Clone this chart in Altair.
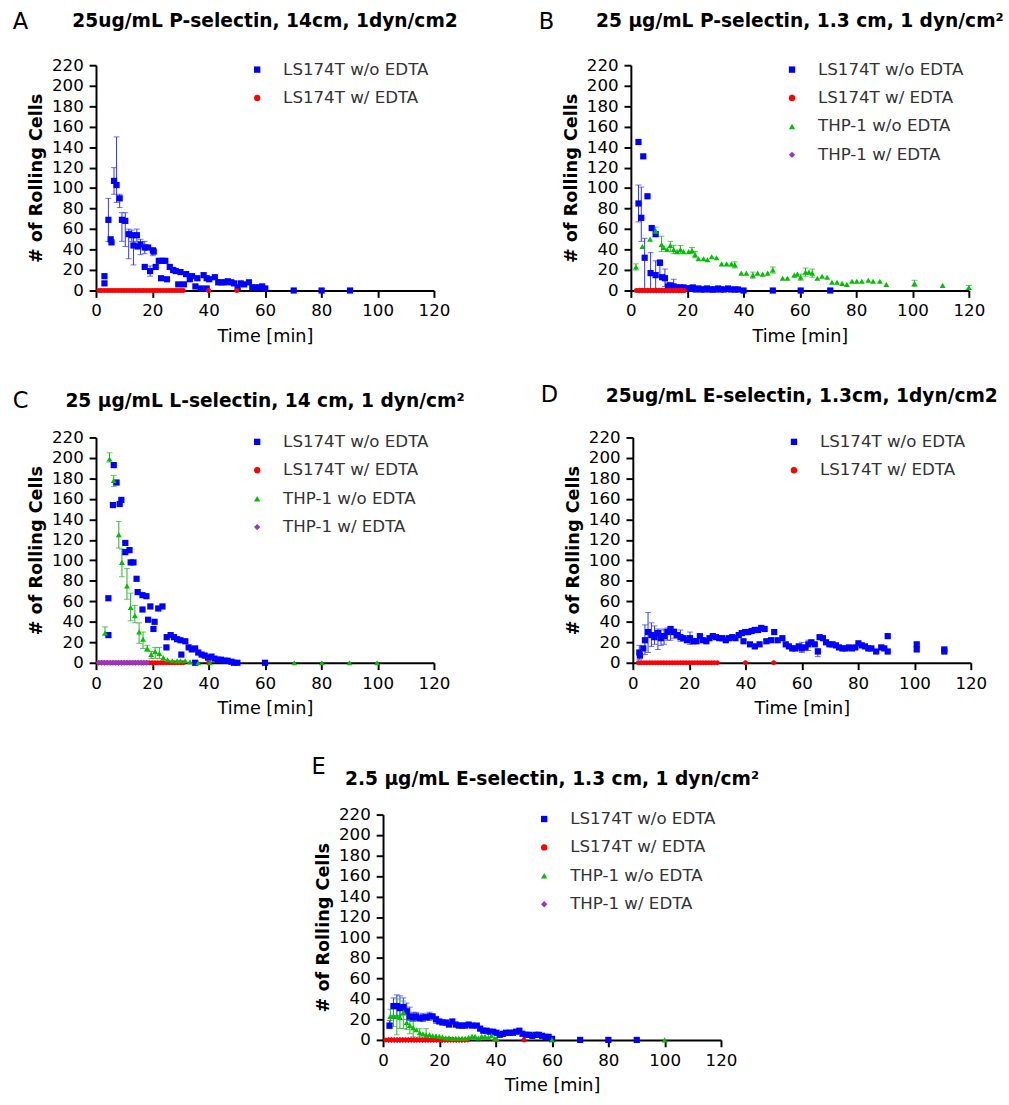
import altair as alt
import pandas as pd

FONT = "DejaVu Sans"
PW, PH = 345, 230

S_LB = "LS174T w/o EDTA"
S_LR = "LS174T w/ EDTA"
S_TG = "THP-1 w/o EDTA"
S_TP = "THP-1 w/ EDTA"
ORDER = [S_LB, S_LR, S_TG, S_TP]
COLORS = {S_LB: "#0000ff", S_LR: "#ff0000", S_TG: "#00c000", S_TP: "#9a32cd"}
SHAPES = {S_LB: "square", S_LR: "circle", S_TG: "triangle-up", S_TP: "diamond"}
SIZES = {S_LB: 40, S_LR: 26, S_TG: 36, S_TP: 40}
ERRC = {S_LB: "#3030ff", S_TG: "#20b020"}

X_TICKS = [0, 20, 40, 60, 80, 100, 120]
Y_TICKS = [0, 20, 40, 60, 80, 100, 120, 140, 160, 180, 200, 220]

# ---------------- Panel A ----------------
A_LB_T = [3.0, 3.0, 4.4, 5.2, 5.5, 6.4, 7.3, 8.4, 9.2, 10.4, 11.6, 12.7, 13.3, 14.5, 14.8, 15.8, 17.3, 18.5, 17.3, 19.2,
          20.2, 20.5, 21.2, 22.3, 23.5, 24.6, 23.1, 25.2, 26.2, 27.4, 28.3, 29.2, 30.0, 31.2, 32.0, 33.3, 34.1, 35.3, 36.0, 37.2,
          38.2, 39.3, 39.3, 40.2, 42.2, 43.4, 44.5, 45.7, 46.8, 48.0, 49.0, 50.3, 51.4, 52.6, 54.3, 55.5, 56.6, 57.8, 59.0, 60.1,
          70.2, 80.1, 90.2]
A_LB_V = [14, 7, 69, 50, 47, 107, 103, 90, 69, 68, 55, 54, 44, 54, 43, 45, 42, 42, 23, 19,
          39, 38, 23, 29, 29, 29, 12, 11, 23, 20, 19, 6, 18, 6, 16, 11, 14, 4, 12, 2,
          15, 2, 12, 11, 13, 8, 8, 8, 9, 8, 7, 3, 7, 6, 8, 3, 3, 3, 4, 2,
          0, 0, 0]
A_LB_ET = [4.4, 6.4, 7.3, 8.4, 9.2, 10.4, 11.6, 12.7, 13.3, 14.5, 15.8, 17.3, 19.2, 20.2]
A_LB_ELO = [48, 94, 86, 81, 48, 43, 31, 48, 25, 48, 35, 36, 14, 34]
A_LB_EHI = [90, 120, 150, 94, 76, 76, 60, 59, 52, 60, 50, 48, 24, 42]
A_LR_T = [1, 2, 3, 4, 5, 6, 7, 8, 9, 10, 11, 12, 13, 14, 15, 16, 17, 18, 19, 20, 21, 22, 23, 24, 25, 26, 27, 28, 29, 30, 31, 40, 50]
A_LR_V = [0, 0, 0, 0, 0, 0, 0, 0, 0, 0, 0, 0, 0, 0, 0, 0, 0, 0, 0, 0, 0, 0, 0, 0, 0, 0, 0, 0, 0, 0, 0, 0, 0]

# ---------------- Panel B ----------------
B_LB_T = [2.7, 4.4, 2.7, 3.7, 5.9, 7.4, 8.8, 4.9, 7.0, 8.8, 10.3, 11.1, 12.1, 13.2, 14.0, 15.2, 16.4, 17.6, 18.7, 19.9,
          21.0, 22.0, 23.0, 24.0, 25.0, 26.0, 27.0, 28.0, 29.0, 30.0, 31.0, 32.0, 33.0, 34.5, 35.5, 37.0, 38.0, 40.0, 50.4, 60.3,
          70.8]
B_LB_V = [145, 131, 85, 71, 92, 61, 55, 32, 17, 15, 27, 13, 12, 4, 5, 4, 3, 3, 3, 2,
          2, 3, 1, 2, 1, 1, 2, 1, 1, 1, 2, 1, 1, 2, 1, 1, 1, 0, 0, 0,
          0]
B_LB_ET = [2.7, 3.7, 4.9, 7.0, 8.8, 10.3, 12.1, 13.2, 15.2]
B_LB_ELO = [67, 48, 0, 0, 0, 14, 4, 0, 0]
B_LB_EHI = [103, 101, 51, 37, 29, 30, 21, 8, 11]
B_LR_T = [2, 3, 4, 5, 6, 7, 8, 9, 10, 11, 12, 13, 14, 15, 16, 17, 18, 19]
B_LR_V = [0, 0, 0, 0, 0, 0, 0, 0, 0, 0, 0, 0, 0, 0, 0, 0, 0, 0]
B_TG_T = [1.8, 4.1, 6.8, 8.8, 10.9, 11.7, 12.9, 14.0, 15.2, 16.4, 17.6, 18.7, 20.5, 21.7, 22.8, 24.0, 25.8, 27.2, 28.7, 30.4,
          32.2, 34.0, 35.7, 36.9, 39.2, 41.0, 43.3, 45.0, 46.8, 48.6, 50.4, 53.9, 55.6, 58.0, 59.1, 60.3, 62.0, 63.2, 64.4, 66.2,
          67.9, 69.7, 71.4, 73.2, 75.0, 76.7, 78.5, 80.2, 82.0, 84.3, 86.0, 88.4, 90.7, 100.7, 110.7, 120.0]
B_TG_V = [23, 43, 50, 58, 45, 42, 40, 44, 40, 38, 40, 38, 38, 39, 35, 31, 31, 30, 33, 32,
          26, 26, 26, 25, 17, 17, 15, 17, 16, 17, 20, 12, 12, 15, 16, 13, 18, 18, 17, 12,
          14, 13, 8, 8, 7, 6, 9, 9, 9, 10, 9, 9, 6, 7, 5, 3]
B_TG_ET = [1.8, 8.8, 10.9, 14.0, 15.2, 17.6, 21.7, 22.8, 36.9, 43.3, 50.4, 60.3, 62.0, 64.4, 100.7, 120.0]
B_TG_ELO = [20, 55, 38, 38, 36, 36, 36, 32, 22, 12, 17, 10, 14, 13, 4, 1]
B_TG_EHI = [26, 62, 53, 48, 44, 44, 42, 38, 28, 18, 23, 16, 22, 21, 10, 5]
B_TP_T = [3, 4, 5, 6, 7, 8, 9, 10, 11, 12, 13, 14, 15, 16, 17, 18]
B_TP_V = [0, 0, 0, 0, 0, 0, 0, 0, 0, 0, 0, 0, 0, 0, 0, 0]

# ---------------- Panel C ----------------
C_LB_T = [4.4, 4.4, 6.3, 7.3, 6.0, 8.4, 9.0, 10.4, 10.4, 11.9, 12.3, 13.3, 14.4, 14.8, 16.5, 17.9, 16.5, 18.5, 19.3, 20.4,
          20.8, 22.1, 23.6, 25.0, 25.1, 26.5, 27.7, 28.8, 30.0, 30.3, 31.7, 32.9, 34.0, 35.2, 35.2, 36.3, 37.5, 38.6, 39.8, 41.0,
          42.1, 43.3, 44.4, 45.6, 46.7, 48.1, 49.0, 50.2, 60.0]
C_LB_V = [63, 27, 193, 176, 154, 155, 159, 117, 108, 110, 98, 98, 82, 69, 66, 65, 52, 42, 55, 33,
          40, 53, 55, 15, 25, 27, 25, 23, 22, 8, 21, 15, 13, 14, 0, 10, 8, 7, 5, 6,
          4, 3, 3, 2, 2, 1, 0, 0, 0]
C_LR_T = [1, 2, 3, 4, 5, 6, 7, 8, 9, 10, 11, 12, 13, 14, 15, 16, 17, 18, 19, 20, 21, 22, 23, 24, 25, 26, 27, 28, 29, 30, 31, 40]
C_LR_V = [0, 0, 0, 0, 0, 0, 0, 0, 0, 0, 0, 0, 0, 0, 0, 0, 0, 0, 0, 0, 0, 0, 0, 0, 0, 0, 0, 0, 0, 0, 0, 0]
C_TG_T = [3.2, 4.8, 6.3, 8.1, 9.2, 11.0, 12.3, 13.8, 15.3, 16.7, 18.2, 19.6, 21.0, 22.5, 23.9, 25.4, 27.1, 28.8, 30.0, 31.7,
          33.4, 36.3, 40.4, 70.4, 80.2, 90.0, 99.8]
C_TG_V = [29, 199, 178, 125, 98, 75, 54, 46, 30, 23, 14, 8, 11, 9, 5, 3, 2, 2, 2, 2,
          1, 0, 0, 0, 0, 0, 0]
C_TG_ET = [3.2, 4.8, 6.3, 8.1, 9.2, 11.0, 12.3, 13.8, 15.3, 16.7, 18.2, 19.6, 21.0, 22.5]
C_TG_ELO = [27, 196, 172, 112, 84, 62, 41, 39, 19, 14, 11, 4, 4, 4]
C_TG_EHI = [35, 205, 183, 138, 111, 92, 68, 56, 39, 30, 17, 11, 15, 15]
C_TP_T = [1, 2, 3, 4, 5, 6, 7, 8, 9, 10, 11, 12, 13, 14, 15, 16, 17, 18]
C_TP_V = [0, 0, 0, 0, 0, 0, 0, 0, 0, 0, 0, 0, 0, 0, 0, 0, 0, 0]

# ---------------- Panel D ----------------
D_LB_T = [2.3, 2.5, 3.7, 4.3, 5.4, 6.6, 7.7, 8.9, 10.0, 11.1, 12.3, 13.4, 14.6, 15.7, 16.9, 18.0, 19.2, 20.3, 21.5, 22.6,
          23.8, 24.9, 26.1, 27.2, 28.4, 29.5, 30.7, 31.8, 33.0, 34.1, 35.3, 36.4, 37.6, 38.7, 39.9, 41.0, 42.2, 43.3, 44.5, 45.6,
          46.8, 39.3, 41.6, 43.3, 45.0, 47.4, 49.1, 50.2, 51.4, 53.1, 54.3, 55.4, 56.6, 57.7, 58.9, 60.0, 61.1, 62.3, 63.4, 64.6,
          65.7, 66.3, 67.5, 68.6, 69.8, 70.9, 72.1, 73.2, 74.4, 75.5, 76.7, 77.8, 79.0, 80.1, 81.3, 82.4, 83.6, 84.7, 86.4, 88.2,
          89.3, 90.5, 90.5, 100.8, 100.8, 110.6, 110.6]
D_LB_V = [10, 7, 14, 22, 30, 27, 25, 29, 24, 26, 30, 33, 30, 27, 25, 24, 22, 24, 21, 21,
          26, 22, 21, 24, 26, 25, 24, 24, 22, 24, 25, 24, 27, 29, 30, 30, 31, 32, 32, 34,
          33, 21, 18, 16, 18, 21, 22, 30, 22, 24, 18, 16, 14, 14, 16, 14, 15, 18, 20, 18,
          11, 25, 24, 20, 18, 18, 17, 15, 14, 14, 15, 14, 15, 19, 17, 16, 14, 14, 11, 15,
          14, 11, 26, 18, 13, 13, 11]
D_LB_ET = [2.3, 4.3, 5.4, 6.6, 7.7, 8.9, 10.0, 11.1, 12.3, 13.4, 14.6, 16.9, 20.3, 60.0, 62.3, 65.7]
D_LB_ELO = [3, 8, 10, 16, 18, 13, 17, 18, 22, 22, 24, 21, 18, 10, 12, 6]
D_LB_EHI = [17, 37, 49, 39, 36, 33, 32, 33, 34, 32, 33, 32, 30, 20, 22, 14]
D_LR_T = [2, 3, 4, 5, 6, 7, 8, 9, 10, 11, 12, 13, 14, 15, 16, 17, 18, 19, 20, 21, 22, 23, 24, 25, 26, 27, 28, 29, 30, 40, 50]
D_LR_V = [0, 0, 0, 0, 0, 0, 0, 0, 0, 0, 0, 0, 0, 0, 0, 0, 0, 0, 0, 0, 0, 0, 0, 0, 0, 0, 0, 0, 0, 0, 0]

# ---------------- Panel E ----------------
E_LB_T = [2.3, 3.7, 4.9, 6.0, 7.2, 8.4, 9.5, 10.7, 11.8, 13.0, 14.2, 15.3, 16.5, 17.6, 18.8, 20.0, 21.1, 22.3, 23.4, 24.6,
          25.8, 26.9, 28.1, 29.2, 30.4, 31.6, 33.3, 34.5, 35.6, 36.8, 37.9, 39.1, 40.3, 41.4, 42.6, 43.7, 44.9, 46.1, 47.2, 48.4,
          49.5, 50.7, 51.9, 53.0, 54.2, 55.3, 56.5, 57.7, 58.8, 60.0, 70.0, 80.0, 90.1]
E_LB_V = [14, 33, 33, 31, 32, 28, 23, 22, 23, 21, 22, 22, 23, 23, 20, 18, 17, 17, 15, 18,
          15, 14, 14, 14, 15, 14, 14, 11, 9, 9, 8, 8, 7, 5, 6, 7, 7, 7, 8, 9,
          6, 5, 5, 4, 5, 5, 4, 3, 3, 1, 0, 0, 0]
E_LB_ET = [2.3, 3.7, 4.9, 6.0, 7.2, 8.4, 9.5, 10.7, 11.8, 14.2, 16.5, 18.8]
E_LB_ELO = [11, 24, 23, 24, 25, 20, 19, 18, 19, 18, 19, 16]
E_LB_EHI = [19, 41, 44, 43, 41, 36, 32, 27, 27, 26, 27, 23]
E_TP_T = [2, 3, 4, 5, 6, 7, 8, 9, 10, 11, 12, 13, 14, 15, 16, 17, 18, 19, 20, 21, 22, 23, 24, 25, 26, 27, 28, 29]
E_TP_V = [0, 0, 0, 0, 0, 0, 0, 0, 0, 0, 0, 0, 0, 0, 0, 0, 0, 0, 0, 0, 0, 0, 0, 0, 0, 0, 0, 0]
E_LR_T = [1, 2, 3, 4, 5, 6, 7, 8, 9, 10, 11, 12, 13, 14, 15, 16, 17, 18, 19, 20, 21, 22, 23, 24, 25, 26, 27, 28, 29, 30, 40, 50]
E_LR_V = [0, 0, 0, 0, 0, 0, 0, 0, 0, 0, 0, 0, 0, 0, 0, 0, 0, 0, 0, 0, 0, 0, 0, 0, 0, 0, 0, 0, 0, 0, 0, 0]
E_TG_T = [2.6, 3.7, 4.9, 6.0, 7.2, 8.4, 9.5, 10.7, 11.8, 13.0, 14.2, 15.3, 16.5, 17.6, 18.8, 20.0, 21.1, 22.3, 23.4, 24.6,
          25.8, 26.9, 28.1, 29.2, 30.4, 31.6, 32.7, 33.9, 35.0, 36.2, 37.4, 38.5, 39.7, 40.3, 60.0, 100.0]
E_TG_V = [23, 23, 23, 22, 27, 17, 14, 12, 10, 7, 6, 5, 5, 4, 4, 3.5, 3, 2, 2, 1.5,
          1.5, 1.5, 1.5, 1.5, 2.6, 3.5, 3.5, 2, 3.5, 3.5, 2.6, 4.2, 1.6, 1, 0, 0]
E_TG_ET = [2.6, 3.7, 4.9, 6.0, 7.2, 8.4, 9.5, 10.7, 13.0, 15.3]
E_TG_ELO = [16, 13, 5, 11, 11, 10, 6, 3, 3, 2]
E_TG_EHI = [30, 32, 40, 35, 38, 24, 20, 18, 11, 11]


def panel(letter, title, series, errors, letter_x, letter_y, title_y):
    rows = []
    for name, ts, vs in series:
        for t, v in zip(ts, vs):
            rows.append({"t": t, "v": v, "s": name, "sz": SIZES[name]})
    df = pd.DataFrame(rows)
    present = [n for n in ORDER if n in {s[0] for s in series}]

    erows, crows = [], []
    for name, ts, los, his in errors:
        for t, lo, hi in zip(ts, los, his):
            erows.append({"t": t, "lo": lo, "hi": hi, "c": ERRC[name]})
            crows.append({"t": t, "v": lo, "c": ERRC[name]})
            crows.append({"t": t, "v": hi, "c": ERRC[name]})
    edf = pd.DataFrame(erows)
    cdf = pd.DataFrame(crows)

    xs = alt.Scale(domain=[0, 120], nice=False, zero=True, padding=0)
    ys = alt.Scale(domain=[0, 220], nice=False, zero=True, padding=0)
    xax = alt.Axis(values=X_TICKS, title="Time [min]", format="d", labelFlush=False)
    yax = alt.Axis(values=Y_TICKS, title="# of Rolling Cells", format="d", labelFlush=False)

    def X(f):
        return alt.X(f + ":Q", scale=xs, axis=xax)

    def Y(f):
        return alt.Y(f + ":Q", scale=ys, axis=yax)

    leg = alt.Legend(title=None, orient="none", legendX=156, legendY=-4, padding=0,
                     labelFont=FONT, labelFontSize=17, labelColor="#333333",
                     symbolSize=42, labelOffset=18, rowPadding=11, symbolStrokeWidth=0)

    rules = alt.Chart(edf).mark_rule(strokeWidth=1).encode(
        x=X("t"), y=Y("lo"), y2=alt.Y2("hi:Q"), stroke=alt.Stroke("c:N", scale=None))
    caps = alt.Chart(cdf).mark_tick(orient="horizontal", size=6, thickness=1).encode(
        x=X("t"), y=Y("v"), fill=alt.Fill("c:N", scale=None))
    pts = alt.Chart(df).mark_point(filled=True, opacity=1).encode(
        x=X("t"), y=Y("v"),
        color=alt.Color("s:N", scale=alt.Scale(domain=present, range=[COLORS[n] for n in present]), legend=leg),
        shape=alt.Shape("s:N", scale=alt.Scale(domain=present, range=[SHAPES[n] for n in present]), legend=leg),
        size=alt.Size("sz:Q", scale=None),
    )
    let = alt.Chart(pd.DataFrame({"lab": [letter]})).mark_text(
        font=FONT, fontSize=23, align="left", baseline="alphabetic", color="black").encode(
        text="lab:N", x=alt.value(letter_x), y=alt.value(letter_y))
    tit = alt.Chart(pd.DataFrame({"lab": [title]})).mark_text(
        font=FONT, fontSize=19, fontWeight="bold", align="center", baseline="alphabetic", color="black").encode(
        text="lab:N", x=alt.value(PW / 2), y=alt.value(title_y))
    return alt.layer(rules, caps, pts, let, tit).properties(width=PW, height=PH)


pA = panel("A", "25ug/mL P-selectin, 14cm, 1dyn/cm2",
           [(S_LB, A_LB_T, A_LB_V), (S_LR, A_LR_T, A_LR_V)],
           [(S_LB, A_LB_ET, A_LB_ELO, A_LB_EHI)], -85, -37, -39)
pB = panel("B", "25 μg/mL P-selectin, 1.3 cm, 1 dyn/cm²",
           [(S_LB, B_LB_T, B_LB_V), (S_TP, B_TP_T, B_TP_V), (S_LR, B_LR_T, B_LR_V), (S_TG, B_TG_T, B_TG_V)],
           [(S_LB, B_LB_ET, B_LB_ELO, B_LB_EHI), (S_TG, B_TG_ET, B_TG_ELO, B_TG_EHI)], -94, -37, -39)
pC = panel("C", "25 μg/mL L-selectin, 14 cm, 1 dyn/cm²",
           [(S_LB, C_LB_T, C_LB_V), (S_LR, C_LR_T, C_LR_V), (S_TP, C_TP_T, C_TP_V), (S_TG, C_TG_T, C_TG_V)],
           [(S_TG, C_TG_ET, C_TG_ELO, C_TG_EHI)], -85, -30, -31)
pD = panel("D", "25ug/mL E-selectin, 1.3cm, 1dyn/cm2",
           [(S_LB, D_LB_T, D_LB_V), (S_LR, D_LR_T, D_LR_V)],
           [(S_LB, D_LB_ET, D_LB_ELO, D_LB_EHI)], -94, -36, -36)
pE = panel("E", "2.5 μg/mL E-selectin, 1.3 cm, 1 dyn/cm²",
           [(S_LB, E_LB_T, E_LB_V), (S_TP, E_TP_T, E_TP_V), (S_LR, E_LR_T, E_LR_V), (S_TG, E_TG_T, E_TG_V)],
           [(S_LB, E_LB_ET, E_LB_ELO, E_LB_EHI), (S_TG, E_TG_ET, E_TG_ELO, E_TG_EHI)], -73, -41, -30)

spacer = alt.Chart(pd.DataFrame({"x": [0]})).mark_rule(opacity=0).encode(
    x=alt.value(0), x2=alt.value(1), y=alt.value(0)).properties(width=210, height=PH)

ind = dict(color="independent", shape="independent")
row1 = alt.hconcat(pA, pB, spacing=82).resolve_scale(**ind)
row2 = alt.hconcat(pC, pD, spacing=77).resolve_scale(**ind)
row3 = alt.hconcat(spacer, pE, spacing=10).resolve_scale(**ind)

chart = (
    alt.vconcat(row1, row2, row3, spacing=40)
    .resolve_scale(**ind)
    .properties(padding={"left": 13, "top": 0, "right": 5, "bottom": 5})
    .configure_view(stroke=None)
    .configure_axis(domainColor="black", domainWidth=2, tickColor="black", tickWidth=2, tickSize=7,
                    labelFont=FONT, labelFontSize=17, labelColor="black", labelPadding=6,
                    titleFont=FONT, titleFontSize=18, titleColor="black", grid=False)
    .configure_axisX(titlePadding=9, titleFontWeight="normal")
    .configure_axisY(titlePadding=6, titleFontWeight="bold")
)

chart.save("out.html", embed_options={"renderer": "svg", "actions": False})
